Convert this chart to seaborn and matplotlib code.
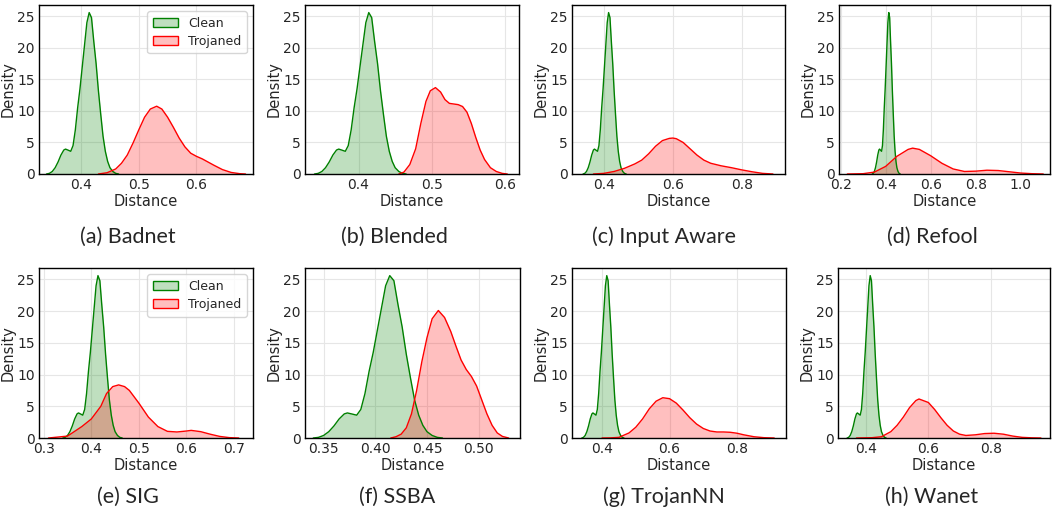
import matplotlib
matplotlib.use("Agg")
import matplotlib.pyplot as plt
from matplotlib.patches import Patch
from matplotlib.colors import to_rgba
import seaborn as sns

# density curve (same shape in every panel)
clean_x = [0.340, 0.345, 0.350, 0.355, 0.360, 0.365, 0.370, 0.373, 0.377, 0.382, 0.386,
           0.390, 0.394, 0.398, 0.402, 0.406, 0.410, 0.414, 0.418, 0.422, 0.426, 0.430,
           0.434, 0.438, 0.442, 0.446, 0.450, 0.455, 0.460, 0.465]
clean_y = [0, 0.1, 0.4, 1.0, 1.9, 3.0, 3.8, 3.95, 3.8, 3.6, 4.5,
           7.0, 10.5, 13.5, 17.0, 20.5, 24.0, 25.6, 24.8, 21.0, 17.5, 13.2,
           9.5, 6.0, 3.6, 2.0, 1.0, 0.4, 0.1, 0]

badnet_x = [0.430, 0.445, 0.460, 0.470, 0.480, 0.490, 0.500, 0.510, 0.520, 0.531, 0.540, 0.550,
            0.560, 0.570, 0.580, 0.590, 0.600, 0.610, 0.620, 0.630, 0.645, 0.660, 0.675, 0.685]
badnet_y = [0, 0.2, 0.8, 1.7, 3.0, 4.9, 7.0, 9.0, 10.3, 10.75, 10.3, 9.0,
            7.4, 5.7, 4.3, 3.3, 2.8, 2.4, 1.9, 1.4, 0.7, 0.25, 0.05, 0]

blended_x = [0.455, 0.462, 0.470, 0.478, 0.485, 0.492, 0.498, 0.505, 0.512, 0.518, 0.524, 0.530,
             0.536, 0.542, 0.548, 0.554, 0.560, 0.566, 0.572, 0.580, 0.588, 0.596, 0.603]
blended_y = [0, 0.3, 1.5, 4.0, 8.0, 11.5, 13.2, 13.7, 13.0, 11.8, 11.2, 11.1,
             11.0, 10.7, 9.8, 8.0, 5.8, 3.8, 2.3, 1.0, 0.4, 0.1, 0]

input_aware_x = [0.370, 0.400, 0.430, 0.460, 0.490, 0.510, 0.530, 0.550, 0.570, 0.590, 0.600, 0.610,
                 0.630, 0.650, 0.670, 0.690, 0.710, 0.740, 0.770, 0.800, 0.830, 0.860, 0.890]
input_aware_y = [0, 0.1, 0.4, 0.9, 1.6, 2.2, 3.2, 4.4, 5.3, 5.65, 5.7, 5.6,
                 5.0, 4.0, 3.0, 2.2, 1.7, 1.3, 1.0, 0.65, 0.35, 0.1, 0]

refool_x = [0.230, 0.300, 0.350, 0.400, 0.450, 0.500, 0.520, 0.550, 0.600, 0.650, 0.700, 0.750,
            0.800, 0.850, 0.900, 0.950, 1.000, 1.050, 1.100]
refool_y = [0, 0.05, 0.3, 1.2, 2.8, 3.9, 4.1, 3.9, 2.9, 1.7, 0.8, 0.4,
            0.45, 0.6, 0.55, 0.35, 0.15, 0.05, 0]

sig_x = [0.310, 0.350, 0.380, 0.400, 0.420, 0.432, 0.445, 0.4575, 0.470, 0.480, 0.500, 0.520,
         0.540, 0.560, 0.580, 0.600, 0.610, 0.630, 0.650, 0.670, 0.690, 0.710]
sig_y = [0, 0.3, 1.8, 3.0, 5.0, 7.0, 8.1, 8.37, 8.1, 7.5, 5.5, 3.3,
         1.8, 1.05, 0.95, 1.1, 1.2, 1.0, 0.6, 0.25, 0.06, 0]

ssba_x = [0.415, 0.420, 0.425, 0.430, 0.435, 0.440, 0.445, 0.450, 0.455, 0.461, 0.467, 0.473,
          0.478, 0.483, 0.488, 0.493, 0.498, 0.503, 0.508, 0.513, 0.518, 0.523, 0.529]
ssba_y = [0, 0.2, 0.6, 1.6, 3.8, 7.5, 12.0, 15.8, 18.8, 20.1, 19.0, 16.8,
          14.5, 12.3, 10.8, 9.7, 8.2, 6.0, 3.8, 2.0, 0.8, 0.25, 0]

trojannn_x = [0.400, 0.425, 0.450, 0.480, 0.500, 0.520, 0.540, 0.560, 0.580, 0.600, 0.620, 0.640,
              0.660, 0.680, 0.700, 0.720, 0.740, 0.760, 0.780, 0.800, 0.820, 0.850, 0.880, 0.910]
trojannn_y = [0, 0.02, 0.1, 0.8, 1.7, 3.0, 4.6, 5.8, 6.35, 6.2, 5.5, 4.4,
              3.2, 2.2, 1.5, 1.1, 0.95, 0.95, 0.9, 0.75, 0.5, 0.2, 0.05, 0]

wanet_x = [0.370, 0.420, 0.450, 0.480, 0.500, 0.520, 0.540, 0.560, 0.570, 0.600, 0.620, 0.640,
           0.660, 0.680, 0.700, 0.720, 0.750, 0.780, 0.810, 0.840, 0.870, 0.900, 0.930, 0.960]
wanet_y = [0, 0.05, 0.2, 1.0, 2.0, 3.3, 4.8, 5.9, 6.15, 5.6, 4.5, 3.2,
           2.0, 1.1, 0.6, 0.4, 0.5, 0.7, 0.75, 0.6, 0.3, 0.1, 0.03, 0]

captions = ["(a) Badnet", "(b) Blended", "(c) Input Aware", "(d) Refool",
            "(e) SIG", "(f) SSBA", "(g) TrojanNN", "(h) Wanet"]
trojaned = [(badnet_x, badnet_y), (blended_x, blended_y), (input_aware_x, input_aware_y),
            (refool_x, refool_y), (sig_x, sig_y), (ssba_x, ssba_y),
            (trojannn_x, trojannn_y), (wanet_x, wanet_y)]
xlims = [(0.327, 0.698), (0.327, 0.619), (0.308, 0.925), (0.193, 1.13),
         (0.290, 0.740), (0.332, 0.540), (0.311, 0.945), (0.311, 0.989)]
xticks = [[0.4, 0.5, 0.6], [0.4, 0.5, 0.6], [0.4, 0.6, 0.8], [0.2, 0.4, 0.6, 0.8, 1.0],
          [0.3, 0.4, 0.5, 0.6, 0.7], [0.35, 0.40, 0.45, 0.50], [0.4, 0.6, 0.8], [0.4, 0.6, 0.8]]
yticks = [0, 5, 10, 15, 20, 25]

sns.set_style("whitegrid")
plt.rcParams["axes.edgecolor"] = "black"
plt.rcParams["grid.color"] = "#e6e6e6"
plt.rcParams["font.family"] = ["DejaVu Sans"]

fig = plt.figure(figsize=(10.55, 5.19), dpi=100)

# axes boxes in pixels (left, top, right, bottom)
boxes = [(39, 5, 253, 174), (305, 5, 519, 174), (572, 5, 785, 174), (839, 5, 1050, 174),
         (39, 268, 253, 438), (305, 268, 520, 438), (572, 268, 786, 438), (838, 268, 1050, 438)]
cap_pos = [(128, 237), (394, 237), (664, 237), (932, 237),
           (128, 497), (397, 497), (664, 497), (932, 497)]

W, H = 1055, 519
for i in range(8):
    l, t, r, b = boxes[i]
    ax = fig.add_axes([l / W, 1 - b / H, (r - l) / W, (b - t) / H])
    tx, ty = trojaned[i]
    ax.fill_between(clean_x, clean_y, color=to_rgba("green", 0.25), linewidth=0)
    ax.fill_between(tx, ty, color=to_rgba("red", 0.25), linewidth=0)
    sns.lineplot(x=clean_x, y=clean_y, color="green", linewidth=1, ax=ax, sort=False)
    sns.lineplot(x=tx, y=ty, color="red", linewidth=1, ax=ax, sort=False)
    ax.set_xlim(*xlims[i])
    ax.set_ylim(0, 26.8)
    ax.set_xticks(xticks[i])
    ax.set_yticks(yticks)
    ax.tick_params(labelsize=10, length=0, pad=3)
    ax.set_xlabel("Distance", fontsize=10.5, labelpad=1)
    ax.set_ylabel("Density", fontsize=10.5, labelpad=1)
    for s in ax.spines.values():
        s.set_linewidth(1)
    if i in (0, 4):
        handles = [Patch(facecolor=to_rgba("green", 0.25), edgecolor="green", label="Clean"),
                   Patch(facecolor=to_rgba("red", 0.25), edgecolor="red", label="Trojaned")]
        ax.legend(handles=handles, loc="upper right", fontsize=9, handlelength=2.0,
                  handleheight=0.8, labelspacing=0.4, borderpad=0.45)
    cx, cy = cap_pos[i]
    fig.text(cx / W, 1 - cy / H, captions[i], ha="center", va="center",
             fontsize=15.5, family=["Lato", "DejaVu Sans"])

fig.savefig("out.png", dpi=100)
